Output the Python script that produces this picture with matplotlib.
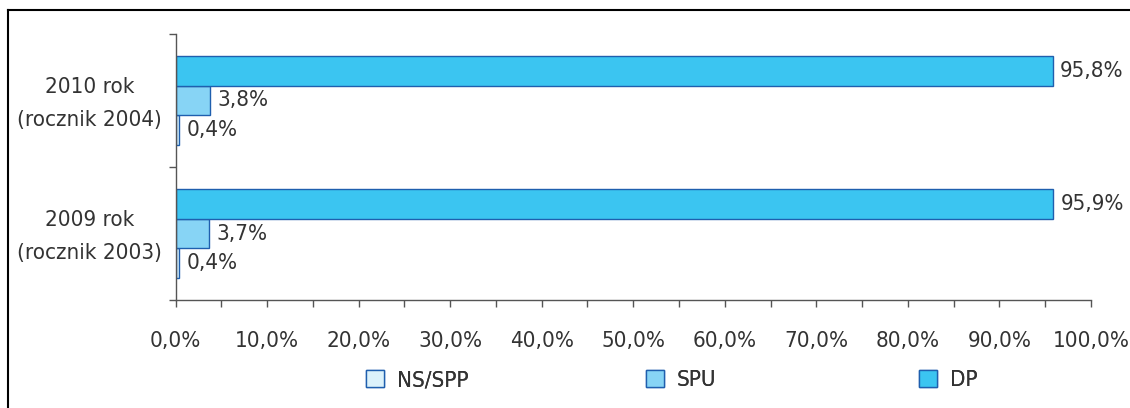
import matplotlib
matplotlib.use("Agg")
import matplotlib.pyplot as plt
from matplotlib.lines import Line2D
from matplotlib.patches import Patch
import numpy as np

plt.rcParams['font.family'] = ['DejaVu Sans']
plt.rcParams['font.stretch'] = 'condensed'

categories = ["2009 rok\n(rocznik 2003)", "2010 rok\n(rocznik 2004)"]
series = ["NS/SPP", "SPU", "DP"]
values = {
    "NS/SPP": [0.4, 0.4],
    "SPU": [3.7, 3.8],
    "DP": [95.9, 95.8],
}
colors = {"NS/SPP": "#dcf2fb", "SPU": "#87d4f5", "DP": "#3bc5f1"}
edge = "#1f5fae"
text_color = "#333333"
fs = 16

fig = plt.figure(figsize=(11.3, 4.08), dpi=100)
ax = fig.add_axes([175.5 / 1130, 108 / 408, 915.5 / 1130, 266 / 408])

h = 0.222
offsets = {"NS/SPP": -h, "SPU": 0.0, "DP": h}
y = np.arange(len(categories))
for name in series:
    ypos = y + offsets[name]
    ax.barh(ypos, values[name], height=h, color=colors[name],
            edgecolor=edge, linewidth=1.0)
    for yy, v in zip(ypos, values[name]):
        ax.text(v + 0.8, yy, f"{v:.1f}%".replace(".", ","), va="center",
                ha="left", fontsize=fs, color=text_color)

ax.set_xlim(0, 100)
ax.set_ylim(-0.5, len(categories) - 0.5)

ax.set_xticks(np.arange(0, 101, 10))
ax.set_xticks(np.arange(0, 101, 5), minor=True)
ax.set_xticklabels([f"{t:.1f}%".replace(".", ",") for t in np.arange(0, 101, 10)])
ax.tick_params(axis="x", which="both", direction="out", length=5, width=1,
               color="#555555", pad=17, labelsize=fs, labelcolor=text_color)

# category labels sit slightly above the band centre, like the original
ax.set_yticks([-0.5, 0.5, 1.5])
ax.set_yticks(y + 0.04, minor=True)
ax.set_yticklabels([], minor=False)
ax.set_yticklabels(categories, minor=True, fontsize=fs, color=text_color,
                   linespacing=1.8, ha="center")
ax.tick_params(axis="y", which="major", direction="out", length=5, width=1,
               color="#555555")
ax.tick_params(axis="y", which="minor", length=0, pad=62)

for s in ["top", "right"]:
    ax.spines[s].set_visible(False)
for s in ["left", "bottom"]:
    ax.spines[s].set_color("#555555")
    ax.spines[s].set_linewidth(1.0)

# legend entries placed side by side
legend_x = [366 / 1130, 646 / 1130, 919 / 1130]
for name, lx in zip(series, legend_x):
    handle = Patch(facecolor=colors[name], edgecolor=edge, linewidth=1.0)
    leg = fig.legend([handle], [name], loc="center left",
                     bbox_to_anchor=(lx, 1 - 380 / 408), frameon=False,
                     fontsize=fs, handlelength=0.8, handleheight=0.8,
                     handletextpad=0.6, borderpad=0, borderaxespad=0)
    for t in leg.get_texts():
        t.set_color(text_color)
    fig.add_artist(leg)

# outer frame (left and top edges visible)
fig.add_artist(Line2D([8 / 1130, 8 / 1130], [0, 1 - 10 / 408],
                      transform=fig.transFigure, color="black", linewidth=1.5))
fig.add_artist(Line2D([8 / 1130, 1], [1 - 10 / 408, 1 - 10 / 408],
                      transform=fig.transFigure, color="black", linewidth=1.5))

fig.savefig("out.png", dpi=100)
